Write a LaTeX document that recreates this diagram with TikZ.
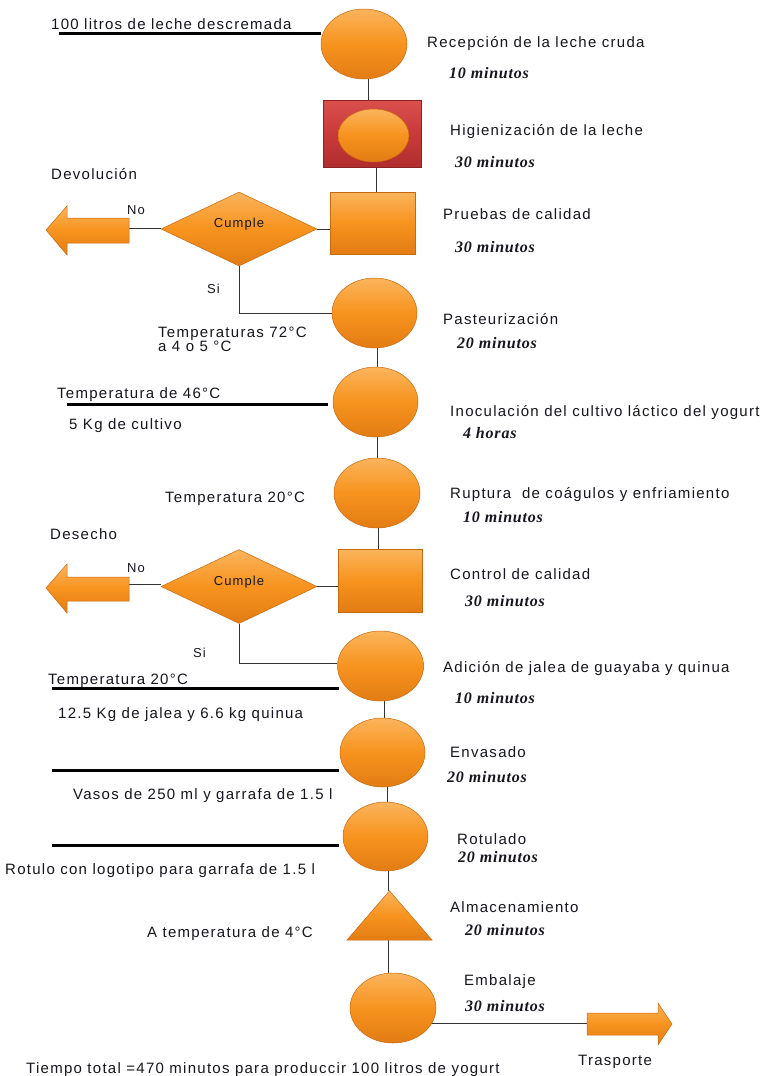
\documentclass[tikz,border=0pt]{standalone}
\usepackage{fontspec}
\setmainfont{Liberation Sans}[LetterSpace=8.5]
\newfontfamily\timef{Liberation Serif}[LetterSpace=5]
\usetikzlibrary{shapes.geometric,backgrounds}
\definecolor{orTop}{HTML}{FBB45C}
\definecolor{orMid}{HTML}{F7931E}
\definecolor{orBot}{HTML}{E27C14}
\definecolor{orEdge}{HTML}{C8690F}
\definecolor{rdTop}{HTML}{D9504D}
\definecolor{rdMid}{HTML}{C93A3A}
\definecolor{rdBot}{HTML}{B02E2E}
\definecolor{rdEdge}{HTML}{8E2222}
\definecolor{txt}{HTML}{16161E}
\begin{document}
\begin{tikzpicture}[x=1pt,y=-1pt,
  orfill/.style={top color=orTop, bottom color=orBot, middle color=orMid, draw=orEdge, line width=0.5pt},
  ellnode/.style={orfill, ellipse, inner sep=0pt, minimum width=86pt, minimum height=70pt},
  boxnode/.style={orfill, rectangle, inner sep=0pt, minimum width=85pt, minimum height=63pt},
  dia/.style={orfill, diamond, inner sep=0pt, minimum width=156pt, minimum height=74pt, text=txt, font=\fontsize{13}{15}\selectfont},
  lbl/.style={anchor=base west, inner sep=0pt, text=txt, font=\fontsize{15}{17}\selectfont},
  tm/.style={anchor=base west, inner sep=0pt, text=txt, font=\fontsize{16}{18}\selectfont\timef\bfseries\itshape},
  conn/.style={draw=black!80, line width=0.8pt},
  bar/.style={draw=black, line width=3pt},
  ghost/.style={inner sep=0pt, draw=none}
]
\useasboundingbox (0,0) rectangle (774,1076);

% ---------- shapes ----------
\node[ellnode] (e1) at (364,44) {};
\node[rectangle, inner sep=0pt, minimum width=98pt, minimum height=67pt, top color=rdTop, bottom color=rdBot, middle color=rdMid, draw=rdEdge, line width=0.6pt] (red) at (372,133.5) {};
\node[ellnode, minimum width=71pt, minimum height=53pt] (hig) at (373.5,135.5) {};
\node[boxnode, minimum height=62pt] (sq1) at (372.5,223) {};
\node[dia] (d1) at (239,229) {\raisebox{1.5pt}[0pt][0pt]{Cumple}};
\node[ellnode, minimum width=85pt] (past) at (374.5,313) {};
\node[ellnode, minimum width=85pt] (ino) at (375.5,402) {};
\node[ellnode] (rup) at (377,493) {};
\node[boxnode, minimum width=84pt] (ctrl) at (380,580.5) {};
\node[dia] (d2) at (239,586.5) {\raisebox{1.5pt}[0pt][0pt]{Cumple}};
\node[ellnode] (adi) at (380.5,666) {};
\node[ellnode, minimum width=85pt, minimum height=69pt] (env) at (382.5,752.5) {};
\node[ellnode, minimum width=85pt, minimum height=69pt] (rot) at (385.5,836.5) {};
\node[ghost, minimum width=85pt, minimum height=49pt] (alm) at (389.5,915.5) {};
\path[orfill] (alm.south west) -- (alm.north) -- (alm.south east) -- cycle;
\node[ellnode] (emb) at (393,1008) {};

% left arrows and right arrow
\path[orfill] (46,230) -- (67,206) -- (67,218) -- (129,218) -- (129,243) -- (67,243) -- (67,255) -- cycle;
\coordinate (dev) at (129,228);
\path[orfill] (46,588) -- (67,564) -- (67,577) -- (129,577) -- (129,601) -- (67,601) -- (67,613) -- cycle;
\coordinate (des) at (129,584);
\path[orfill] (587,1013) -- (658,1013) -- (658,1003) -- (672,1024) -- (658,1045) -- (658,1035) -- (587,1035) -- cycle;
\coordinate (tra) at (587,1023);

% input bars
\coordinate (b1a) at (59,33);   \coordinate (b1b) at (321,33);
\coordinate (b2a) at (67,404);  \coordinate (b2b) at (328,404);
\coordinate (b3a) at (52,688);  \coordinate (b3b) at (339,688);
\coordinate (b4a) at (52,770);  \coordinate (b4b) at (339,770);
\coordinate (b5a) at (52,845);  \coordinate (b5b) at (339,845);

% ---------- connectors ----------
\begin{scope}[on background layer]
\fill[white] (0,0) rectangle (774,1076);
\draw[bar] (b1a) -- (b1b);
\draw[bar] (b2a) -- (b2b);
\draw[bar] (b3a) -- (b3b);
\draw[bar] (b4a) -- (b4b);
\draw[bar] (b5a) -- (b5b);
\draw[conn] ([xshift=4pt]e1.south) -- ([xshift=4pt]e1.south |- red.north);
\draw[conn] ([xshift=4pt]red.south) -- ([xshift=4pt]red.south |- sq1.north);
\draw[conn] (d1.east) -- (d1.east -| sq1.west);
\draw[conn] (d1.west |- dev) -- (dev);
\draw[conn] (d1.south) |- (past.west);
\draw[conn] ([xshift=3pt]past.south) -- ([xshift=3pt]past.south |- ino.north);
\draw[conn] ([xshift=2pt]ino.south) -- ([xshift=2pt]ino.south |- rup.north);
\draw[conn] ([xshift=1pt]rup.south) -- ([xshift=1pt]rup.south |- ctrl.north);
\draw[conn] (d2.east) -- (d2.east -| ctrl.west);
\draw[conn] (d2.west |- des) -- (des);
\draw[conn] (d2.south) |- ([yshift=3pt]adi.west);
\draw[conn] ([xshift=4pt]adi.south) -- ([xshift=4pt]adi.south |- env.north);
\draw[conn] ([xshift=5pt]env.south) -- ([xshift=5pt]env.south |- rot.north);
\draw[conn] ([xshift=3pt]rot.south) -- ([xshift=3pt]rot.south |- alm.north);
\draw[conn] ([xshift=-1pt]alm.south) -- ([xshift=-1pt]alm.south |- emb.north);
\draw[conn] (emb.center |- tra) -- (tra);
\end{scope}

% ---------- texts ----------
\node[lbl] (t1) at (51,29) {100 litros de leche descremada};
\node[lbl] (r1) at (427,47) {Recepción de la leche cruda};
\node[tm] (m1) at (449,78) {10 minutos};
\node[lbl] (r2) at (450,135) {Higienización de la leche};
\node[tm] (m2) at (455,167) {30 minutos};
\node[lbl] (dv) at (51,179) {Devolución};
\node[lbl, font=\fontsize{13}{15}\selectfont] (no1) at (127,214) {No};
\node[lbl] (r3) at (443,219) {Pruebas de calidad};
\node[tm] (m3) at (455,252) {30 minutos};
\node[lbl, font=\fontsize{13}{15}\selectfont] (si1) at (207,293) {Si};
\node[lbl] (r4) at (443,324) {Pasteurización};
\node[tm] (m4) at (457,348) {20 minutos};
\node[lbl] (t2) at (158,337) {Temperaturas 72°C};
\node[lbl] (t3) at (158,351) {a 4 o 5 °C};
\node[lbl] (t4) at (57,398) {Temperatura de 46°C};
\node[lbl] (t5) at (69,429) {5 Kg de cultivo};
\node[lbl] (r5) at (450,416) {Inoculación del cultivo láctico del yogurt};
\node[tm] (m5) at (463,438) {4 horas};
\node[lbl] (t6) at (165,502) {Temperatura 20°C};
\node[lbl] (r6) at (450,498) {Ruptura\ \ de coágulos y enfriamiento};
\node[tm] (m6) at (463,522) {10 minutos};
\node[lbl] (ds) at (50,539) {Desecho};
\node[lbl, font=\fontsize{13}{15}\selectfont] (no2) at (127,572) {No};
\node[lbl] (r7) at (450,579) {Control de calidad};
\node[tm] (m7) at (465,606) {30 minutos};
\node[lbl, font=\fontsize{13}{15}\selectfont] (si2) at (193,657) {Si};
\node[lbl] (t7) at (48,684) {Temperatura 20°C};
\node[lbl] (t8) at (58,718) {12.5 Kg de jalea y 6.6 kg quinua};
\node[lbl] (r8) at (443,672) {Adición de jalea de guayaba y quinua};
\node[tm] (m8) at (455,703) {10 minutos};
\node[lbl] (r9) at (450,757) {Envasado};
\node[tm] (m9) at (447,782) {20 minutos};
\node[lbl] (t9) at (73,799) {Vasos de 250 ml y garrafa de 1.5 l};
\node[lbl] (r10) at (457,844) {Rotulado};
\node[tm] (m10) at (458,862) {20 minutos};
\node[lbl] (t10) at (5,874) {Rotulo con logotipo para garrafa de 1.5 l};
\node[lbl] (t11) at (147,937) {A temperatura de 4°C};
\node[lbl] (r11) at (450,912) {Almacenamiento};
\node[tm] (m11) at (465,935) {20 minutos};
\node[lbl] (r12) at (464,985) {Embalaje};
\node[tm] (m12) at (465,1011) {30 minutos};
\node[lbl] (tr) at (578,1065) {Trasporte};
\node[lbl] (tt) at (26,1073) {Tiempo total =470 minutos para produccir 100 litros de yogurt};
\end{tikzpicture}
\end{document}
